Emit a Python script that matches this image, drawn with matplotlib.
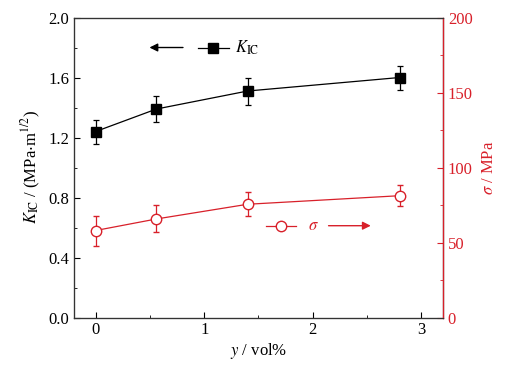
import numpy as np
import matplotlib
matplotlib.use('Agg')
import matplotlib.pyplot as plt
from matplotlib.ticker import MultipleLocator

plt.rcParams['font.family'] = ['Liberation Serif', 'DejaVu Serif']
plt.rcParams['mathtext.fontset'] = 'stix'
plt.rcParams['font.size'] = 12

red = '#d8202a'

# data
y_vol = [0, 0.56, 1.4, 2.8]
kic = [1.24, 1.39, 1.51, 1.60]
kic_err = [0.08, 0.085, 0.09, 0.08]
sigma = [58, 65.7, 75.5, 81.2]
sigma_err = [10, 9, 8, 7]

fig = plt.figure(figsize=(5.3, 3.71), dpi=100)
ax1 = fig.add_axes([0.1396, 0.1442, 0.6962, 0.8086])
ax2 = ax1.twinx()

ax1.errorbar(y_vol, kic, yerr=kic_err, color='black', marker='s', ms=6.5,
             lw=0.9, elinewidth=0.9, capsize=2.5, capthick=0.9)
ax2.errorbar(y_vol, sigma, yerr=sigma_err, color=red, marker='o', ms=7.5,
             mfc='white', mec=red, mew=1.0, lw=0.9, elinewidth=0.9,
             capsize=2.5, capthick=0.9)

ax1.set_xlim(-0.2, 3.2)
ax1.set_ylim(0, 2.0)
ax2.set_ylim(0, 200)
ax1.xaxis.set_major_locator(MultipleLocator(1))
ax1.xaxis.set_minor_locator(MultipleLocator(0.5))
ax1.yaxis.set_major_locator(MultipleLocator(0.4))
ax1.yaxis.set_minor_locator(MultipleLocator(0.2))
ax2.yaxis.set_major_locator(MultipleLocator(50))
ax2.yaxis.set_minor_locator(MultipleLocator(25))

ax1.tick_params(which='both', direction='in', right=False, top=False)
ax1.tick_params(which='major', length=4)
ax1.tick_params(which='minor', length=2.5)
ax2.tick_params(which='both', direction='in', colors=red)
ax2.tick_params(which='major', length=4)
ax2.tick_params(which='minor', length=2.5)
ax2.spines['right'].set_color(red)
for s in ['left', 'bottom', 'top']:
    ax1.spines[s].set_color('#333333')
    ax2.spines[s].set_color('#333333')
for s in ax1.spines.values():
    s.set_linewidth(0.9)
ax2.spines['right'].set_linewidth(0.9)

ax1.set_xlabel('$y$ / vol%', labelpad=2)
ax1.set_ylabel(r'$K_{\rm IC}$ / (MPa$\cdot$m$^{1/2}$)', labelpad=4)
ax2.set_ylabel(r'$\sigma$ / MPa', color=red, labelpad=6)

# in-plot legend keys with arrows
ax1.annotate('', xy=(0.47, 1.8), xytext=(0.83, 1.8),
             arrowprops=dict(arrowstyle='-|>', color='black', lw=1.0,
                             mutation_scale=12))
ax1.plot([0.94, 1.23], [1.8, 1.8], color='black', lw=0.9)
ax1.plot([1.085], [1.8], 's', color='black', ms=6.5)
ax1.text(1.28, 1.8, r'$K_{\rm IC}$', va='center', ha='left')

ax1.plot([1.565, 1.85], [0.612, 0.612], color=red, lw=0.9)
ax1.plot([1.71], [0.612], 'o', ms=7.5, mfc='white', mec=red, mew=1.0)
ax1.text(1.96, 0.612, r'$\sigma$', color=red, va='center', ha='left')
ax1.annotate('', xy=(2.56, 0.612), xytext=(2.12, 0.612),
             arrowprops=dict(arrowstyle='-|>', color=red, lw=1.0,
                             mutation_scale=12))

fig.savefig('out.png', dpi=100)
